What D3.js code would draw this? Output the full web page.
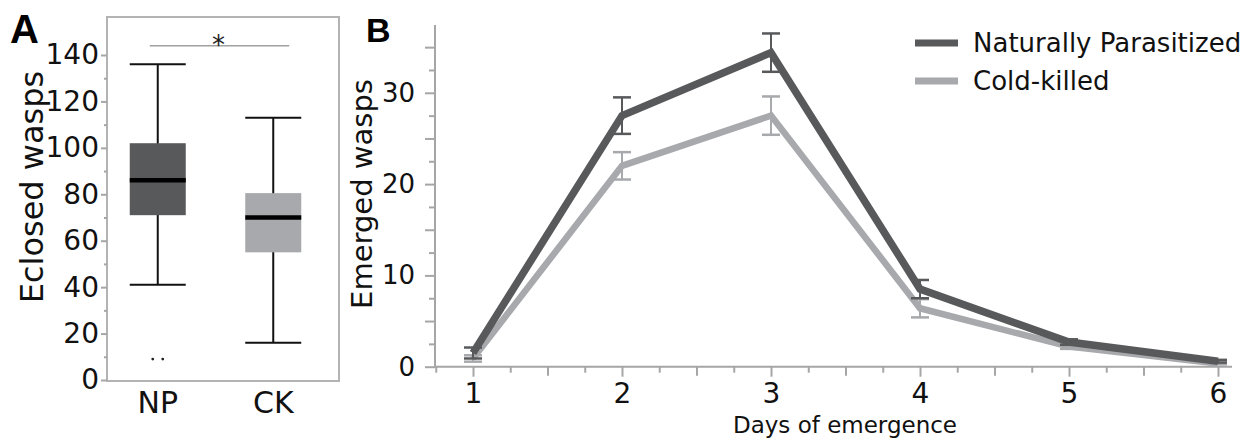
<!DOCTYPE html>
<html>
<head>
<meta charset="utf-8">
<script src="https://cdn.jsdelivr.net/npm/d3@7"></script>
<style>
  body { margin: 0; background: #fff; }
  svg { display: block; font-family: "DejaVu Sans", sans-serif; }
  .axis path, .axis line { stroke: #a6a6a6; stroke-width: 2px; }
  .axis text { fill: #111; font-family: "DejaVu Sans", sans-serif; }
</style>
</head>
<body>
<script>
// panel A: eclosed wasps per treatment (box plot)
const boxGroups = ["NP", "CK"];
const boxMin = [41, 16];
const boxQ1 = [71, 55];
const boxMedian = [86, 70];
const boxQ3 = [102, 80.5];
const boxMax = [136, 113];
const boxOutliers = [[9, 9], []];
const boxColors = ["#58595b", "#a7a9ac"];
const boxTicks = [0, 20, 40, 60, 80, 100, 120, 140];

// panel B: emerged wasps per day (mean +/- error)
const days = [1, 2, 3, 4, 5, 6];
const npMean = [1.5, 27.5, 34.4, 8.5, 2.7, 0.6];
const npErr = [0.6, 2.0, 2.1, 1.0, 0.3, 0.15];
const ckMean = [0.9, 22.0, 27.5, 6.4, 2.2, 0.35];
const ckErr = [0.35, 1.5, 2.1, 1.0, 0.25, 0.1];
const seriesNames = ["Naturally Parasitized", "Cold-killed"];
const seriesColors = ["#58595b", "#a7a9ac"];
const lineTicks = [0, 10, 20, 30];

const width = 1259, height = 443;

const svg = d3.select("body").append("svg")
  .attr("width", width)
  .attr("height", height);

// ---------- panel A ----------
const yA = d3.scaleLinear().domain([0, 140]).range([380, 55]);
const xA = d3.scalePoint().domain(boxGroups).range([100, 331]).padding(0.5);
const boxW = 56;

svg.append("rect")
  .attr("x", 107).attr("y", 17)
  .attr("width", 232).attr("height", 364)
  .attr("fill", "none")
  .attr("stroke", "#b3b3b3")
  .attr("stroke-width", 2);

// minor ticks at the odd tens
svg.append("g")
  .attr("class", "axis")
  .attr("transform", "translate(107,0)")
  .call(d3.axisLeft(yA).tickValues(d3.range(10, 140, 20)).tickSize(3).tickFormat(""))
  .call(g => g.select(".domain").remove())
  .selectAll("line").attr("stroke", "#d0d0d0");

svg.append("g")
  .attr("class", "axis")
  .attr("transform", "translate(107,0)")
  .call(d3.axisLeft(yA).tickValues(boxTicks).tickSize(6).tickPadding(2))
  .call(g => g.select(".domain").remove())
  .selectAll("text")
  .attr("font-size", 28);

const boxes = svg.append("g")
  .selectAll("g")
  .data(boxGroups)
  .join("g");

// whiskers
boxes.append("line")
  .attr("x1", d => xA(d)).attr("x2", d => xA(d))
  .attr("y1", (d, i) => yA(boxMin[i]))
  .attr("y2", (d, i) => yA(boxMax[i]))
  .attr("stroke", "#111").attr("stroke-width", 2);

boxes.selectAll(".cap")
  .data((d, i) => [boxMin[i], boxMax[i]].map(v => ({ g: d, v })))
  .join("line")
  .attr("class", "cap")
  .attr("x1", d => xA(d.g) - boxW / 2)
  .attr("x2", d => xA(d.g) + boxW / 2)
  .attr("y1", d => yA(d.v)).attr("y2", d => yA(d.v))
  .attr("stroke", "#111").attr("stroke-width", 2);

boxes.append("rect")
  .attr("x", d => xA(d) - boxW / 2)
  .attr("width", boxW)
  .attr("y", (d, i) => yA(boxQ3[i]))
  .attr("height", (d, i) => yA(boxQ1[i]) - yA(boxQ3[i]))
  .attr("fill", (d, i) => boxColors[i]);

boxes.append("line")
  .attr("x1", d => xA(d) - boxW / 2)
  .attr("x2", d => xA(d) + boxW / 2)
  .attr("y1", (d, i) => yA(boxMedian[i]))
  .attr("y2", (d, i) => yA(boxMedian[i]))
  .attr("stroke", "#000").attr("stroke-width", 4.5);

boxes.selectAll(".out")
  .data((d, i) => boxOutliers[i].map((v, j) => ({ g: d, v, j })))
  .join("circle")
  .attr("class", "out")
  .attr("cx", d => xA(d.g) - 5 + d.j * 10)
  .attr("cy", d => yA(d.v))
  .attr("r", 1.4)
  .attr("fill", "#222");

// significance bar
svg.append("line")
  .attr("x1", xA("NP") - 8).attr("x2", xA("CK") + 16)
  .attr("y1", yA(144)).attr("y2", yA(144))
  .attr("stroke", "#a0a0a0").attr("stroke-width", 1.5);
svg.append("text")
  .attr("x", (xA("NP") + xA("CK")) / 2 + 3)
  .attr("y", yA(144) + 8)
  .attr("text-anchor", "middle")
  .attr("font-size", 26)
  .attr("fill", "#222")
  .text("*");

svg.append("g")
  .selectAll("text")
  .data(boxGroups)
  .join("text")
  .attr("x", d => xA(d))
  .attr("y", 413)
  .attr("text-anchor", "middle")
  .attr("font-size", 30)
  .attr("fill", "#111")
  .text(d => d);

svg.append("text")
  .attr("transform", "translate(43,187) rotate(-90)")
  .attr("text-anchor", "middle")
  .attr("font-size", 32)
  .attr("fill", "#111")
  .text("Eclosed wasps");

svg.append("text")
  .attr("x", 10).attr("y", 43)
  .attr("font-size", 40)
  .attr("font-weight", 700)
  .attr("font-family", "'Liberation Sans', Arial, sans-serif")
  .text("A");

// ---------- panel B ----------
const xB = d3.scaleLinear().domain([1, 6]).range([473, 1218]);
const yB = d3.scaleLinear().domain([0, 10]).range([366.7, 275.4]);
const x0 = 435, x1 = 1232, yTop = 25;

// y axis
svg.append("line")
  .attr("x1", x0).attr("x2", x0)
  .attr("y1", yTop).attr("y2", yB(0))
  .attr("stroke", "#a6a6a6").attr("stroke-width", 2);

svg.append("g")
  .attr("class", "axis")
  .attr("transform", `translate(${x0},0)`)
  .call(d3.axisLeft(yB).tickValues(d3.range(2.5, 37, 5)).tickSize(6).tickFormat(""))
  .call(g => g.select(".domain").remove());

svg.append("g")
  .attr("class", "axis")
  .attr("transform", `translate(${x0},0)`)
  .call(d3.axisLeft(yB).tickValues(d3.range(0, 36, 5)).tickSize(10).tickPadding(10)
    .tickFormat(d => lineTicks.includes(d) ? d : ""))
  .call(g => g.select(".domain").remove())
  .selectAll("text")
  .attr("font-size", 26);

// x axis
svg.append("line")
  .attr("x1", x0).attr("x2", x1)
  .attr("y1", yB(0)).attr("y2", yB(0))
  .attr("stroke", "#a6a6a6").attr("stroke-width", 2);

const quarter = d3.range(0.75, 6.1, 0.25).filter(v => v % 0.5 !== 0);
const halves = d3.range(1.5, 6, 1);

svg.append("g")
  .attr("class", "axis")
  .attr("transform", `translate(0,${yB(0)})`)
  .call(d3.axisBottom(xB).tickValues(quarter).tickSize(6).tickFormat(""))
  .call(g => g.select(".domain").remove());

svg.append("g")
  .attr("class", "axis")
  .attr("transform", `translate(0,${yB(0)})`)
  .call(d3.axisBottom(xB).tickValues(halves).tickSize(9).tickFormat(""))
  .call(g => g.select(".domain").remove());

svg.append("g")
  .attr("class", "axis")
  .attr("transform", `translate(0,${yB(0)})`)
  .call(d3.axisBottom(xB).tickValues(days).tickSize(10).tickPadding(6).tickFormat(d3.format("d")))
  .call(g => g.select(".domain").remove())
  .selectAll("text")
  .attr("font-size", 28);

// series
const series = [
  { name: seriesNames[1], color: seriesColors[1], mean: ckMean, err: ckErr, w: 6.5 },
  { name: seriesNames[0], color: seriesColors[0], mean: npMean, err: npErr, w: 7.5 }
];

const line = d3.line()
  .x(d => xB(d.day))
  .y(d => yB(d.v));

const sg = svg.append("g")
  .selectAll("g")
  .data(series)
  .join("g");

sg.append("path")
  .attr("d", s => line(days.map((day, i) => ({ day, v: s.mean[i] }))))
  .attr("fill", "none")
  .attr("stroke", s => s.color)
  .attr("stroke-width", s => s.w)
  .attr("stroke-linejoin", "miter");

const capW = 18;
sg.each(function (s) {
  const g = d3.select(this);
  const pts = days.map((day, i) => ({ day, lo: s.mean[i] - s.err[i], hi: s.mean[i] + s.err[i] }));
  g.selectAll(".eb")
    .data(pts)
    .join("line")
    .attr("class", "eb")
    .attr("x1", d => xB(d.day)).attr("x2", d => xB(d.day))
    .attr("y1", d => yB(d.lo)).attr("y2", d => yB(d.hi))
    .attr("stroke", s.color).attr("stroke-width", 2);
  g.selectAll(".ec")
    .data(pts.flatMap(d => [{ day: d.day, v: d.lo }, { day: d.day, v: d.hi }]))
    .join("line")
    .attr("class", "ec")
    .attr("x1", d => xB(d.day) - capW / 2).attr("x2", d => xB(d.day) + capW / 2)
    .attr("y1", d => yB(d.v)).attr("y2", d => yB(d.v))
    .attr("stroke", s.color).attr("stroke-width", 2.5);
});

// legend
const leg = svg.append("g")
  .selectAll("g")
  .data(seriesNames)
  .join("g")
  .attr("transform", (d, i) => `translate(915,${43 + i * 38})`);

leg.append("line")
  .attr("x1", 0).attr("x2", 43)
  .attr("stroke", (d, i) => seriesColors[i])
  .attr("stroke-width", 7);

leg.append("text")
  .attr("x", 58).attr("y", 9)
  .attr("font-size", 26)
  .attr("fill", "#111")
  .text(d => d);

svg.append("text")
  .attr("transform", "translate(372,194) rotate(-90)")
  .attr("text-anchor", "middle")
  .attr("font-size", 29)
  .attr("fill", "#111")
  .text("Emerged wasps");

svg.append("text")
  .attr("x", 845).attr("y", 433)
  .attr("text-anchor", "middle")
  .attr("font-size", 23)
  .attr("fill", "#111")
  .text("Days of emergence");

svg.append("text")
  .attr("x", 366).attr("y", 42)
  .attr("font-size", 34)
  .attr("font-weight", 700)
  .attr("font-family", "'Liberation Sans', Arial, sans-serif")
  .text("B");
</script>
</body>
</html>
